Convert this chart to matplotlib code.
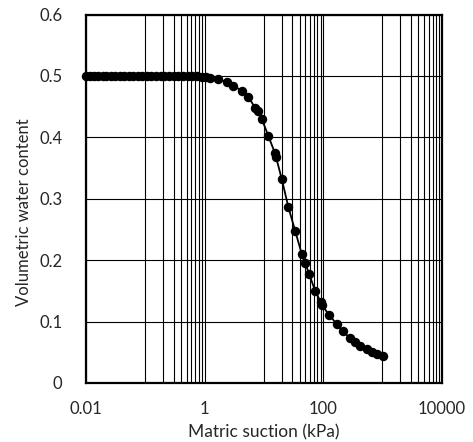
import numpy as np
import matplotlib
matplotlib.use("Agg")
import matplotlib.pyplot as plt
from matplotlib.ticker import FixedLocator, NullFormatter

plt.rcParams['font.family'] = ['Lato', 'DejaVu Sans']

# matric suction (kPa) and volumetric water content
suction = [0.01, 0.0115, 0.0135, 0.016, 0.019, 0.022, 0.026, 0.031, 0.037, 0.044,
           0.052, 0.062, 0.074, 0.088, 0.105, 0.125, 0.15, 0.18, 0.21, 0.25,
           0.3, 0.36, 0.43, 0.52, 0.62, 0.75, 0.9, 1.05, 1.24, 1.71,
           2.36, 3.05, 4.23, 5.47, 7.1, 8.07, 9.2, 11.9, 15.4, 16.0,
           20.0, 25.9, 33.6, 43.5, 49.5, 57.8, 73.0, 91.0, 94.6, 125.6,
           169.0, 214.0, 284.0, 345.0, 419.0, 543.0, 659.0, 820.0, 1035.0]
theta = [0.5, 0.5, 0.5, 0.5, 0.5, 0.5, 0.5, 0.5, 0.5, 0.5,
         0.5, 0.5, 0.5, 0.5, 0.5, 0.5, 0.5, 0.5, 0.5, 0.5,
         0.5, 0.5, 0.5, 0.5, 0.5, 0.5, 0.499, 0.498, 0.497, 0.495,
         0.490, 0.484, 0.476, 0.466, 0.448, 0.443, 0.430, 0.402, 0.374, 0.368,
         0.332, 0.286, 0.248, 0.210, 0.195, 0.178, 0.150, 0.132, 0.127, 0.111,
         0.096, 0.084, 0.073, 0.066, 0.061, 0.055, 0.051, 0.048, 0.044]

x_major = [0.01, 1, 100, 10000]
x_labels = ['0.01', '1', '100', '10000']
y_major = [0, 0.1, 0.2, 0.3, 0.4, 0.5, 0.6]
y_labels = ['0', '0.1', '0.2', '0.3', '0.4', '0.5', '0.6']

fig = plt.figure(figsize=(4.73, 4.42), dpi=100)
ax = fig.add_axes([0.182, 0.1335, 0.752, 0.8335])

ax.set_xscale('log')
ax.set_xlim(0.01, 10000)
ax.set_ylim(0, 0.6)

# excel style log axis (base 100): minor lines at 10..90 x each major
minors = []
for m in x_major[:-1]:
    for k in range(1, 10):
        minors.append(m * 10 * k)
ax.xaxis.set_major_locator(FixedLocator(x_major))
ax.xaxis.set_minor_locator(FixedLocator(minors))
ax.xaxis.set_minor_formatter(NullFormatter())
ax.set_xticks(x_major)
ax.set_xticklabels(x_labels)
ax.set_yticks(y_major)
ax.set_yticklabels(y_labels)

ax.grid(True, which='major', color='black', linewidth=0.8)
ax.grid(True, which='minor', axis='x', color='black', linewidth=0.8)
ax.set_axisbelow(True)

ax.plot(suction, theta, color='black', linewidth=1.3, marker='o',
        markersize=5.8, markerfacecolor='black', markeredgecolor='black',
        clip_on=False, zorder=3)

for s in ax.spines.values():
    s.set_linewidth(1.6)
    s.set_color('black')

ax.tick_params(which='both', length=0, labelsize=12, colors='#262626')
ax.tick_params(axis='x', pad=13)
ax.tick_params(axis='y', pad=17)

ax.set_xlabel('Matric suction (kPa)', fontsize=12.5, color='#262626')
ax.set_ylabel('Volumetric water content', fontsize=12, color='#262626')
ax.xaxis.set_label_coords(0.5, -0.112)
ax.yaxis.set_label_coords(-0.152, 0.464)

fig.savefig('out.png', dpi=100)
